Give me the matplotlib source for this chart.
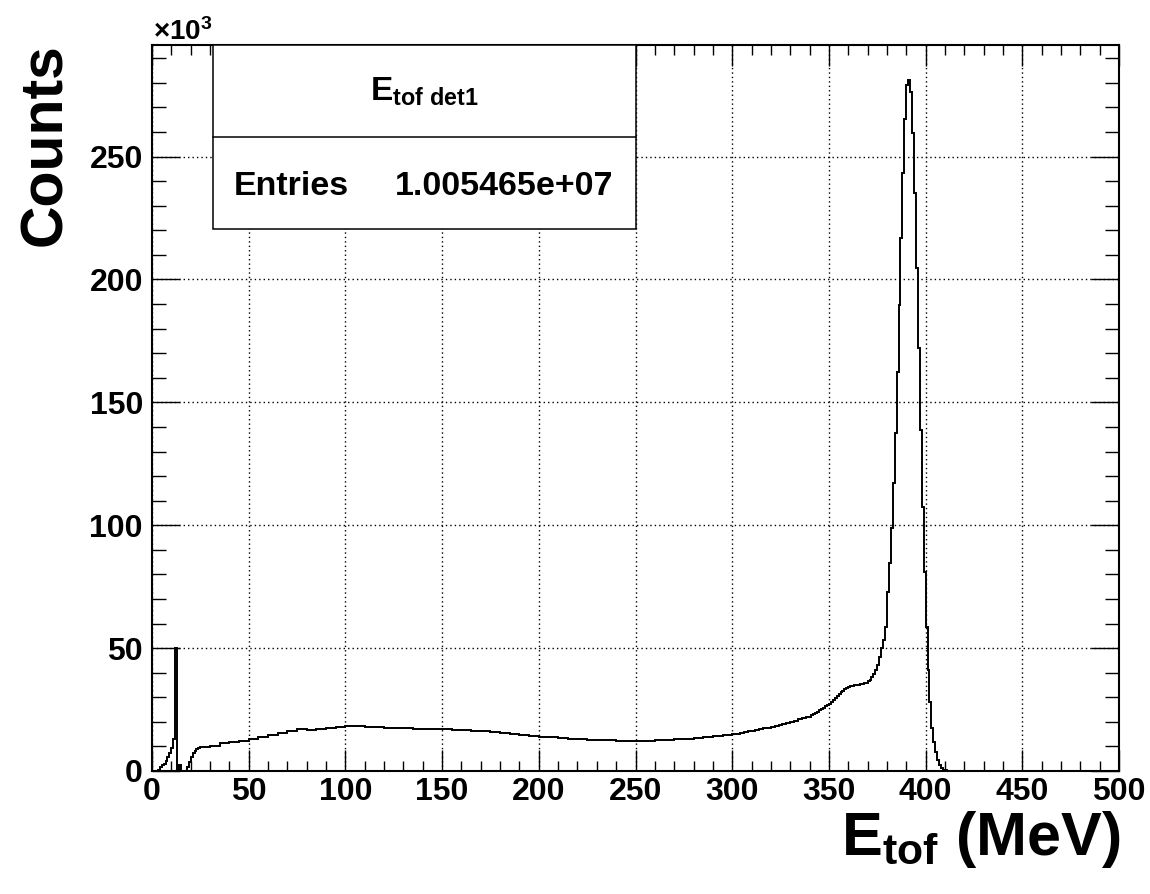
import numpy as np
import matplotlib
matplotlib.use("Agg")
import matplotlib.pyplot as plt
from matplotlib.ticker import MultipleLocator
from matplotlib.patches import Rectangle
from matplotlib.lines import Line2D

plt.rcParams['font.family'] = 'Liberation Sans'
plt.rcParams['font.weight'] = 'bold'
plt.rcParams['axes.labelweight'] = 'bold'
plt.rcParams['mathtext.fontset'] = 'custom'
plt.rcParams['mathtext.rm'] = 'Liberation Sans:bold'
plt.rcParams['mathtext.it'] = 'Liberation Sans:bold'
plt.rcParams['mathtext.bf'] = 'Liberation Sans:bold'
plt.rcParams['mathtext.sf'] = 'Liberation Sans:bold'
plt.rcParams['mathtext.default'] = 'rm'

# counts in units of 10^3
# 1 MeV bins 0-30
counts_low = [0, 0, 0, 0.3, 1.5, 2.5, 3.0, 4.0, 5.5, 7.5,
              9.5, 12.9, 50.0, 0.2, 2.4, 0.2, 0, 0, 1.5, 3.5,
              5.5, 7.2, 8.3, 9.0, 9.4, 9.6, 9.8, 9.9, 9.9, 9.9]
# 5 MeV bins 30-300
counts_mid = [10.2, 11.4, 11.9, 12.4, 13.0, 13.8, 14.6, 15.4, 16.2, 17.0,
              16.8, 17.2, 17.6, 18.0, 18.3, 18.2, 18.0, 17.8, 17.6, 17.4,
              17.3, 17.2, 17.1, 17.0, 17.0, 16.8, 16.6, 16.4, 16.2, 15.9,
              15.6, 15.2, 14.8, 14.4, 14.0, 13.7, 13.4, 13.1, 12.9, 12.8,
              12.7, 12.6, 12.4, 12.2, 12.2, 12.4, 12.6, 12.8, 13.0, 13.2,
              13.5, 13.9, 14.3, 14.7]
# 2 MeV bins 300-340
counts_rise = [15.0, 15.2, 15.5, 15.8, 16.1, 16.4, 16.7, 17.0, 17.3, 17.6,
               18.0, 18.4, 18.8, 19.2, 19.6, 20.0, 20.5, 21.0, 21.5, 21.8]
# 1 MeV bins 340-415
counts_peak = [22.0, 22.6, 23.0, 23.6, 24.2, 24.8, 25.3, 25.8, 26.3, 26.8,
               27.4, 28.2, 29.0, 29.8, 30.6, 31.4, 32.1, 32.7, 33.2, 33.7,
               34.1, 34.4, 34.6, 34.8, 35.0, 35.1, 35.2, 35.4, 35.7, 36.0,
               36.5, 37.2, 38.2, 39.4, 41.0, 43.1, 46.5, 49.9, 53.3, 58.7,
               72.9, 84.5, 98.7, 117.0, 137.4, 162.4, 189.6, 216.7, 243.4, 265.1,
               279.0, 281.1, 276.4, 259.7, 235.0, 204.5, 172.0, 138.7, 107.5, 81.1,
               58.7, 41.1, 28.2, 17.4, 11.9, 7.9, 4.5, 2.4, 1.3, 0.6,
               0.3, 0.1, 0, 0, 0]
counts_tail = [0]

edges = np.concatenate([np.arange(0, 31, 1), np.arange(35, 301, 5),
                        np.arange(302, 341, 2), np.arange(341, 416, 1), [500]])
counts = np.array(counts_low + counts_mid + counts_rise + counts_peak + counts_tail)

W, H = 1150, 894
fig = plt.figure(figsize=(W / 100, H / 100), dpi=100)
ax = fig.add_axes([152 / W, 123 / H, 967 / W, 726 / H])

ax.stairs(counts, edges, color='black', lw=1.4)

ax.set_xlim(0, 500)
ax.set_ylim(0, 295.4)
ax.set_xticks(np.arange(0, 501, 50))
ax.set_yticks(np.arange(0, 251, 50))
ax.xaxis.set_minor_locator(MultipleLocator(10))
ax.yaxis.set_minor_locator(MultipleLocator(10))
ax.tick_params(which='both', direction='in', top=True, right=True, width=1.0, labelsize=23)
ax.tick_params(axis='x', which='major', length=15, pad=4)
ax.tick_params(axis='x', which='minor', length=7.5)
ax.tick_params(axis='y', which='major', length=20, pad=6.5)
ax.tick_params(axis='y', which='minor', length=10)
for s in ax.spines.values():
    s.set_linewidth(1.5)
ax.grid(True, which='major', color='black', linestyle=(0, (1, 2.2)), lw=1.0)

ax.set_xlabel(r'E$_{tof}$ (MeV)', fontsize=44, ha='right', va='baseline')
ax.xaxis.set_label_coords(1121 / W, 1 - 855 / H, transform=fig.transFigure)
ax.set_ylabel('Counts', fontsize=42.5, ha='right', va='baseline')
ax.yaxis.set_label_coords(61 / W, 1 - 43 / H, transform=fig.transFigure)

fig.text(153 / W, 1 - 40 / H, r'$\times$10$^{3}$', fontsize=20, va='baseline')

# stats box
fig.add_artist(Rectangle((213 / W, 1 - 229 / H), 423 / W, 184 / H, transform=fig.transFigure,
                         facecolor='white', edgecolor='black', lw=1.1, zorder=5))
fig.add_artist(Line2D([213 / W, 636 / W], [1 - 137 / H, 1 - 137 / H], transform=fig.transFigure,
                      color='black', lw=1.1, zorder=6))
fig.text(424.5 / W, 1 - 101 / H, r'E$_{tof\ det1}$', fontsize=24, ha='center', va='baseline', zorder=7)
fig.text(234 / W, 1 - 195 / H, 'Entries', fontsize=24.5, ha='left', va='baseline', zorder=7)
fig.text(613 / W, 1 - 195 / H, '1.005465e+07', fontsize=24.5, ha='right', va='baseline', zorder=7)

fig.savefig('out.png', dpi=100)
